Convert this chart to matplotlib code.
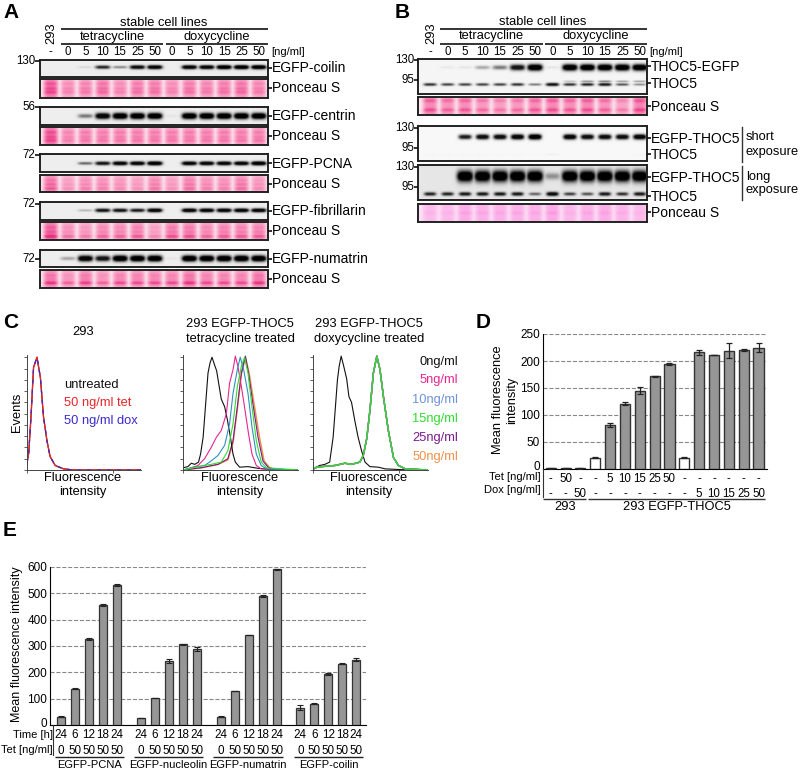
import numpy as np
import matplotlib
matplotlib.use("Agg")
import matplotlib.pyplot as plt
from matplotlib.colors import LinearSegmentedColormap
from matplotlib.ticker import NullFormatter
from matplotlib.transforms import ScaledTranslation

plt.rcParams['font.family'] = ['Liberation Sans', 'DejaVu Sans']
plt.rcParams['font.size'] = 9.3

W, H = 800, 771

lane_labels = ['-', '0', '5', '10', '15', '25', '50', '0', '5', '10', '15', '25', '50']

# band strength per lane, panel A
coilin_bands = [0, 0, .15, .75, .45, .9, .95, 0, .95, .95, 1, 1, 1]
centrin_bands = [0, 0, .5, .95, 1, 1, 1, .06, 1, 1, 1, 1, 1]
pcna_bands = [0, 0, .55, .85, .95, .95, 1, 0, .95, .95, .95, .95, 1]
fibrillarin_bands = [0, 0, .3, .85, .85, .8, .95, 0, .95, .95, .95, .95, .95]
numatrin_bands = [0, .35, .95, .85, 1, 1, 1, .06, 1, 1, 1, 1, 1]

# panel B
thoc5_egfp_upper = [0, .08, .1, .35, .5, .85, 1, .1, 1, 1, 1, 1, 1]
thoc5_egfp_mid = [0, 0, 0, 0, 0, 0, 0, 0, .3, .45, .5, .4, .4]
thoc5_egfp_lower = [.7, .65, .65, .65, .65, .7, .5, .85, .7, .75, .8, .6, .45]
short_upper = [0, 0, .8, .9, .9, .95, 1, 0, .95, .9, .9, .9, .95]
short_lower = [.03, .03, .03, .03, .03, .03, .02, .06, 0, 0, 0, 0, .03]
long_upper = [0, 0, 1, 1, 1, 1, 1, .4, 1, 1, 1, 1, 1]
long_lower = [.75, .75, .8, .8, .8, .8, .55, .9, .65, .6, .8, .7, .8]

# ponceau lane loading
ponceau_a1 = [.95, .6, .65, .75, .6, .7, .7, .6, .7, .65, .7, .75, .65]
ponceau_a2 = [1, .65, .7, .7, .7, .7, .7, .7, .7, .7, .7, .7, .7]
ponceau_a3 = [.8, .5, .6, .6, .55, .5, .65, .5, .7, .6, .6, .7, .55]
ponceau_a4 = [.95, .6, .55, .65, .65, .7, .5, .75, .75, .65, .7, .7, .7]
ponceau_a5 = [.8, .6, .75, .6, .7, .7, .7, .7, .8, .7, .7, .7, .8]
ponceau_b1 = [.85, .75, .8, .7, .65, .7, .8, .85, .8, .85, .75, .6, .9]
ponceau_b2 = [.55, .55, .75, .7, .7, .7, .7, .8, .6, .7, .75, .65, .55]

# flow cytometry traces: log10 intensity / % of max
ctrl_x = [0, .06, .14, .23, .35, .47, .58, .7, .81, .99, 1.28, 1.63, 4]
ctrl_y = [6, 15, 47, 91, 100, 82, 47, 26, 12, 4, 1, 0, 0]

tet0_x = [0, .17, .29, .41, .54, .61, .7, .78, .87, .94, 1.01, 1.1, 1.17, 1.24, 1.33, 1.45, 1.54, 1.65, 1.74, 1.82, 1.97, 2.26, 2.61, 3.07, 4]
tet0_y = [2, 3, 6, 5, 7, 14, 29, 56, 86, 95, 100, 93, 88, 77, 63, 56, 45, 29, 14, 7, 2.5, 3, 1.5, .3, 0]
tet5_x = [0, .17, .52, .75, .98, 1.16, 1.33, 1.51, 1.62, 1.74, 1.82, 1.91, 2.03, 2.14, 2.28, 2.4, 2.55, 2.72, 4]
tet5_y = [0, 1, 4, 10, 20, 29, 35, 50, 77, 89, 101, 92, 74, 56, 32, 14, 4, 1, 0]
tet10_x = [0, .29, .75, .98, 1.22, 1.45, 1.62, 1.74, 1.89, 1.99, 2.11, 2.26, 2.4, 2.55, 2.72, 2.9, 4]
tet10_y = [0, 2, 4, 8, 13, 22, 41, 68, 89, 100, 89, 68, 38, 14, 4, 1, 0]
tet15_x = [0, .52, .98, 1.33, 1.56, 1.74, 1.89, 2.03, 2.14, 2.26, 2.4, 2.55, 2.72, 2.9, 4]
tet15_y = [0, 3, 5, 7, 17, 41, 74, 92, 100, 86, 56, 26, 7, 2, 0]
tet25_x = [0, .64, 1.22, 1.56, 1.74, 1.89, 2.03, 2.17, 2.28, 2.43, 2.61, 2.78, 2.96, 3.13, 4]
tet25_y = [0, 2, 5, 10, 26, 56, 86, 101, 86, 59, 29, 8, 2.5, .6, 0]
tet50_x = [0, .64, 1.22, 1.56, 1.74, 1.89, 2.03, 2.17, 2.3, 2.47, 2.66, 2.82, 3, 3.16, 4]
tet50_y = [0, 2, 5, 9, 24, 54, 85, 100, 86, 59, 29, 8, 2.5, .6, 0]

dox0_x = [0, .23, .41, .58, .7, .78, .85, .91, .98, 1.06, 1.17, 1.25, 1.34, 1.46, 1.57, 1.69, 1.81, 1.98, 2.27, 2.51, 3.09, 4]
dox0_y = [1, 4, 5, 7, 29, 56, 80, 92, 101, 93, 81, 65, 60, 43, 29, 17, 7, 3, 2.5, 1, .3, 0]
dox_x = [0, .06, .29, .76, 1.11, 1.34, 1.63, 1.75, 1.87, 1.98, 2.1, 2.22, 2.33, 2.45, 2.62, 2.8, 2.97, 3.21, 4]
dox_y = [0, 2, 3, 4, 6, 5, 7, 13, 28, 53, 86, 101, 89, 65, 35, 11, 4, 1, 0]

dose_labels = ['0ng/ml', '5ng/ml', '10ng/ml', '15ng/ml', '25ng/ml', '50ng/ml']
dose_colors = ['#111111', '#e6268c', '#6f93d6', '#2fdc2f', '#7a1a8c', '#f0904a']

# panel D
d_values = [1, 1, 1, 21, 82, 121, 145, 172, 194, 21, 216, 211, 219, 220, 225]
d_errors = [.5, .5, .5, 1, 4, 3, 7, 1, 2, .5, 4, .5, 14, 1.5, 8]
d_white = [0, 1, 2, 3, 9]
d_tet = ['-', '50', '-', '-', '5', '10', '15', '25', '50', '-', '-', '-', '-', '-', '-']
d_dox = ['-', '-', '50', '-', '-', '-', '-', '-', '-', '-', '5', '10', '15', '25', '50']

# panel E
e_groups = ['EGFP-PCNA', 'EGFP-nucleolin', 'EGFP-numatrin', 'EGFP-coilin']
e_values = [[32, 139, 326, 455, 532],
            [27, 104, 243, 307, 289],
            [33, 130, 342, 490, 590],
            [67, 82, 193, 233, 248]]
e_errors = [[2, 1, 3, 3, 4],
            [1, 1, 9, 2, 8],
            [1, 1, 1, 4, 1],
            [9, 1, 4, 1, 5]]
e_time = ['24', '6', '12', '18', '24']
e_tet = ['0', '50', '50', '50', '50']

fig = plt.figure(figsize=(W / 100, H / 100), dpi=100)


def px_axes(x0, y0, x1, y1, **kw):
    return fig.add_axes([x0 / W, 1 - y1 / H, (x1 - x0) / W, (y1 - y0) / H], **kw)


ov = px_axes(0, 0, W, H)
ov.set_xlim(0, W)
ov.set_ylim(H, 0)
ov.axis('off')
ov.set_zorder(5)


def txt(x, y, s, ha='left', **kw):
    kw.setdefault('va', 'center')
    ov.text(x, y, s, ha=ha, **kw)


def hline(x0, x1, y, lw=1.2, color='#111111'):
    ov.plot([x0, x1], [y, y], color=color, lw=lw, solid_capstyle='butt')


def raise_zero_label(ax):
    # the 0 sits a little above the baseline in the figure
    lab = ax.get_yticklabels()[0]
    lab.set_transform(lab.get_transform() + ScaledTranslation(0, .03, fig.dpi_scale_trans))


def blot(x0, y0, x1, y1, first, step, rows, bg=.93):
    """rows is a list of (strengths, y fraction, thickness, lane half width)"""
    ax = px_axes(x0, y0, x1, y1)
    nx, ny = int((x1 - x0) * 3), int((y1 - y0) * 4)
    X, Y = np.meshgrid(np.linspace(x0, x1, nx), np.linspace(0, 1, ny))
    dark = np.zeros_like(X)
    for strengths, yf, thick, half in rows:
        for i, s in enumerate(strengths):
            if s <= 0:
                continue
            cx = first + i * step
            d = np.exp(-((X - cx) / half) ** 4) * np.exp(-((Y - yf) / (thick * (.35 + .65 * s))) ** 2)
            dark = np.maximum(dark, np.clip(d * (s * 1.5), 0, 1) * (.4 + .6 * s))
    img = bg * (1 - dark)
    ax.imshow(img, cmap='gray', vmin=0, vmax=1, aspect='auto', extent=(x0, x1, y1, y0), interpolation='bilinear')
    ax.set_xticks([])
    ax.set_yticks([])
    for sp in ax.spines.values():
        sp.set_linewidth(1.4)
        sp.set_color('#222222')


def ponceau(x0, y0, x1, y1, first, step, loading, stripes, colors):
    ax = px_axes(x0, y0, x1, y1)
    nx, ny = int((x1 - x0) * 3), int((y1 - y0) * 4)
    X, Y = np.meshgrid(np.linspace(x0, x1, nx), np.linspace(0, 1, ny))
    val = np.zeros_like(X)
    for i, s in enumerate(loading):
        lane = np.exp(-((X - (first + i * step)) / 7.2) ** 4)
        prof = .62 + sum(a * np.exp(-((Y - yf) / .1) ** 2) for yf, a in stripes)
        val = np.maximum(val, lane * s * prof)
    cmap = LinearSegmentedColormap.from_list('ponc', colors)
    ax.imshow(val, cmap=cmap, vmin=0, vmax=1, aspect='auto', extent=(x0, x1, y1, y0), interpolation='bilinear')
    ax.set_xticks([])
    ax.set_yticks([])
    for sp in ax.spines.values():
        sp.set_linewidth(1.4)
        sp.set_color('#222222')


pink = ['#fce6ef', '#f78fb9', '#e82f80']
pale = ['#fde0f6', '#fba9e6', '#f06cc8']

# ---- panel A
txt(3, 12, 'A', fontsize=15, fontweight='bold', color='black')
ax_first, ax_step = 50.7, 17.35
txt(51, 33, '293', ha='center', rotation=90)
txt(164, 23, 'stable cell lines', ha='center')
hline(61, 268, 29)
txt(112, 37, 'tetracycline', ha='center')
hline(61, 163, 44)
txt(217, 37, 'doxycycline', ha='center')
hline(166, 268, 44)
for i, lab in enumerate(lane_labels):
    txt(ax_first + i * ax_step, 52, lab, ha='center', fontsize=8.3)
txt(271, 52, '[ng/ml]', fontsize=8)

a_rows = [
    (59.5, 76.5, coilin_bands, .48, .12, 'EGFP-coilin', ponceau_a1, [(.3, .25), (.55, .3), (.75, .35)], 130, 61, 79, 97.5),
    (107, 125, centrin_bands, .5, .17, 'EGFP-centrin', ponceau_a2, [(.3, .25), (.55, .25), (.75, .3)], 56, 107, 127, 145),
    (154, 172, pcna_bands, .52, .11, 'EGFP-PCNA', ponceau_a3, [(.3, .2), (.55, .3), (.8, .4)], 72, 155, 175, 192),
    (202, 219.5, fibrillarin_bands, .52, .11, 'EGFP-fibrillarin', ponceau_a4, [(.3, .2), (.55, .25), (.8, .55)], 72, 204, 222, 240),
    (250, 267, numatrin_bands, .5, .18, 'EGFP-numatrin', ponceau_a5, [(.3, .2), (.5, .15), (.72, .65)], 72, 259, 270, 288),
]
for y0, y1, bands, yf, thick, name, load, stripes, mw, mw_y, py0, py1 in a_rows:
    blot(40, y0, 268, y1, ax_first, ax_step, [(bands, yf, thick, 7.5)])
    ponceau(40, py0, 268, py1, ax_first, ax_step, load, stripes, pink)
    txt(272, (y0 + y1) / 2 + .5, name, fontsize=10)
    txt(272, (py0 + py1) / 2, 'Ponceau S', fontsize=10)
    hline(268, 272, (y0 + y1) / 2)
    hline(268, 272, (py0 + py1) / 2)
    txt(35, mw_y, str(mw), ha='right', fontsize=8.3)
    hline(35, 40, mw_y)

# ---- panel B
txt(395, 12, 'B', fontsize=15, fontweight='bold', color='black')
bx_first, bx_step = 430, 17.5
txt(431, 33, '293', ha='center', rotation=90)
txt(543, 22, 'stable cell lines', ha='center')
hline(440, 647, 29)
txt(491, 36, 'tetracycline', ha='center')
hline(440, 543, 44)
txt(596, 36, 'doxycycline', ha='center')
hline(545, 647, 44)
for i, lab in enumerate(lane_labels):
    txt(bx_first + i * bx_step, 52, lab, ha='center', fontsize=8.3)
txt(649, 52, '[ng/ml]', fontsize=8)

blot(418, 59, 647, 94, bx_first, bx_step,
     [(thoc5_egfp_upper, .24, .09, 7.5), (thoc5_egfp_mid, .64, .04, 6.5), (thoc5_egfp_lower, .73, .05, 6.5)], bg=.96)
ponceau(418, 97, 647, 115, bx_first, bx_step, ponceau_b1, [(.2, .3), (.72, .4)], pink)
blot(418, 126, 647, 161, bx_first, bx_step, [(short_upper, .31, .075, 6.5), (short_lower, .82, .05, 6)], bg=.97)
blot(418, 165, 647, 200, bx_first, bx_step, [(long_upper, .32, .16, 8), (long_lower, .83, .06, 6)], bg=.9)
ponceau(418, 204, 647, 222, bx_first, bx_step, ponceau_b2, [(.5, .15)], pale)

for y, lab in [(67, 'THOC5-EGFP'), (84, 'THOC5'), (107, 'Ponceau S'), (139, 'EGFP-THOC5'),
               (155, 'THOC5'), (178, 'EGFP-THOC5'), (197, 'THOC5'), (213, 'Ponceau S')]:
    txt(651, y, lab, fontsize=10)
    hline(647, 651, y - 1)
for y, lab in [(60, '130'), (80, '95'), (128, '130'), (148, '95'), (167, '130'), (187, '95')]:
    txt(414, y, lab, ha='right', fontsize=8.3)
    hline(414, 418, y)
ov.plot([742, 742], [127, 162], color='#333333', lw=1)
ov.plot([742, 742], [166, 200], color='#333333', lw=1)
txt(746, 137, 'short')
txt(746, 152, 'exposure')
txt(746, 177, 'long')
txt(746, 190, 'exposure')

# ---- panel C
txt(3, 323, 'C', fontsize=15, fontweight='bold', color='black')


def flow_axes(x0, x1):
    ax = px_axes(x0, 355, x1, 470)
    ax.set_xscale('log')
    ax.set_xlim(1, 1e4)
    ax.set_ylim(0, 102)
    ax.set_yticks(np.arange(0, 101, 10))
    ax.set_yticklabels([])
    ax.tick_params(axis='both', which='major', length=2.5, width=.6, color='#444444')
    ax.tick_params(axis='x', which='minor', length=1.5, width=.4, color='#444444')
    ax.xaxis.set_major_formatter(NullFormatter())
    ax.xaxis.set_minor_formatter(NullFormatter())
    ax.spines['top'].set_visible(False)
    ax.spines['right'].set_visible(False)
    for sp in ('left', 'bottom'):
        ax.spines[sp].set_linewidth(.7)
        ax.spines[sp].set_color('#444444')
    return ax


def trace(ax, xs, ys, color, **kw):
    ax.plot(10 ** np.array(xs), ys, color=color, lw=kw.pop('lw', .8), **kw)


c1 = flow_axes(27, 141)
trace(c1, ctrl_x, ctrl_y, '#111111')
trace(c1, ctrl_x, ctrl_y, '#e8262a', lw=1)
trace(c1, ctrl_x, ctrl_y, '#3a2ad0', lw=.9, linestyle=(0, (3, 5)))

c2 = flow_axes(183, 298)
trace(c2, tet50_x, tet50_y, dose_colors[5], lw=1.1)
trace(c2, tet25_x, tet25_y, dose_colors[4])
trace(c2, tet0_x, tet0_y, dose_colors[0])
trace(c2, tet5_x, tet5_y, dose_colors[1])
trace(c2, tet10_x, tet10_y, '#2f8fc0')
trace(c2, tet15_x, tet15_y, dose_colors[3])

c3 = flow_axes(313, 428)
trace(c3, dox0_x, dox0_y, dose_colors[0])
for col in [dose_colors[5], dose_colors[4], dose_colors[1], dose_colors[2], dose_colors[3]]:
    trace(c3, dox_x, dox_y, col, lw=1)

txt(83, 332, '293', ha='center')
txt(240, 324, '293 EGFP-THOC5', ha='center')
txt(240, 339, 'tetracycline treated', ha='center')
txt(369, 324, '293 EGFP-THOC5', ha='center')
txt(369, 339, 'doxycycline treated', ha='center')
txt(64, 385, 'untreated', color='#111111')
txt(64, 403, '50 ng/ml tet', color='#e8262a')
txt(64, 421, '50 ng/ml dox', color='#3a2ad0')
txt(17, 412, 'Events', ha='center', rotation=90)
for cx in (83, 240, 369):
    txt(cx, 478, 'Fluorescence', ha='center')
    txt(cx, 492, 'intensity', ha='center')
for lab, col, y in zip(dose_labels, dose_colors, [362, 380, 400, 419, 438, 457]):
    txt(458, y, lab, ha='right', color=col)

# ---- panel D
txt(476, 322, 'D', fontsize=15, fontweight='bold', color='black')
d_ax = px_axes(543, 334, 767, 469)
d_x = np.arange(len(d_values))
d_colors = ['white' if i in d_white else '#969696' for i in d_x]
d_ax.bar(d_x, d_values, width=.68, color=d_colors, edgecolor='#333333', linewidth=1, zorder=3)
d_ax.errorbar(d_x, d_values, yerr=d_errors, fmt='none', ecolor='#222222', elinewidth=.9, capsize=2.5, capthick=.9, zorder=4)
d_ax.set_xlim(-.52, 14.57)
d_ax.set_ylim(0, 250)
d_ax.set_yticks(range(0, 251, 50))
d_ax.yaxis.grid(True, linestyle='--', color='#888888', linewidth=.8, zorder=0)
d_ax.set_axisbelow(True)
d_ax.set_xticks(d_x)
d_ax.set_xticklabels([a + '\n' + b for a, b in zip(d_tet, d_dox)], fontsize=8.3, linespacing=1.3)
d_ax.tick_params(axis='x', length=0, pad=3)
d_ax.tick_params(axis='y', length=0, pad=2, labelsize=8.5)
raise_zero_label(d_ax)
d_ax.spines['top'].set_visible(False)
d_ax.spines['right'].set_visible(False)
txt(541, 477, 'Tet [ng/ml]', ha='right', fontsize=8)
txt(541, 490, 'Dox [ng/ml]', ha='right', fontsize=8)
ov.plot([543, 543], [469, 497], color='#333333', lw=.8)
hline(543, 586, 499, lw=1, color='#333333')
hline(588, 765, 499, lw=1, color='#333333')
txt(565, 507, '293', ha='center')
txt(677, 507, '293 EGFP-THOC5', ha='center')
txt(498, 400, 'Mean fluorescence', ha='center', rotation=90)
txt(512, 400, 'intensity', ha='center', rotation=90)

# ---- panel E
txt(3, 531, 'E', fontsize=15, fontweight='bold', color='black')
e_ax = px_axes(50, 566.7, 366, 725.3)
e_x = np.concatenate([np.arange(5) + g * 5.7 for g in range(4)])
e_ax.bar(e_x, np.concatenate(e_values), width=.57, color='#969696', edgecolor='#333333', linewidth=.9, zorder=3)
e_ax.errorbar(e_x, np.concatenate(e_values), yerr=np.concatenate(e_errors), fmt='none', ecolor='#222222',
              elinewidth=.8, capsize=2.2, capthick=.8, zorder=4)
e_ax.set_xlim(-.79, 21.79)
e_ax.set_ylim(0, 600)
e_ax.set_yticks(range(0, 601, 100))
e_ax.yaxis.grid(True, linestyle='--', color='#888888', linewidth=.8, zorder=0)
e_ax.set_axisbelow(True)
e_ax.set_xticks(e_x)
e_ax.set_xticklabels([a + '\n' + b for a, b in zip(e_time * 4, e_tet * 4)], fontsize=8.4, linespacing=1.4)
e_ax.tick_params(axis='x', length=0, pad=3)
e_ax.tick_params(axis='y', length=0, pad=2, labelsize=8.5)
raise_zero_label(e_ax)
e_ax.spines['top'].set_visible(False)
e_ax.spines['right'].set_visible(False)
txt(53, 735, 'Time [h]', ha='right', fontsize=8)
txt(53, 750, 'Tet [ng/ml]', ha='right', fontsize=8)
ov.plot([53, 53], [725, 755], color='#333333', lw=.8)
for (x0, x1), name in zip([(55, 124), (134, 203), (213, 283), (294, 363)], e_groups):
    hline(x0, x1, 757, lw=1, color='#222222')
    txt((x0 + x1) / 2, 765, name, ha='center', fontsize=8)
txt(17, 644, 'Mean fluorescence intensity', ha='center', rotation=90, fontsize=9)

fig.savefig('out.png', dpi=100)
